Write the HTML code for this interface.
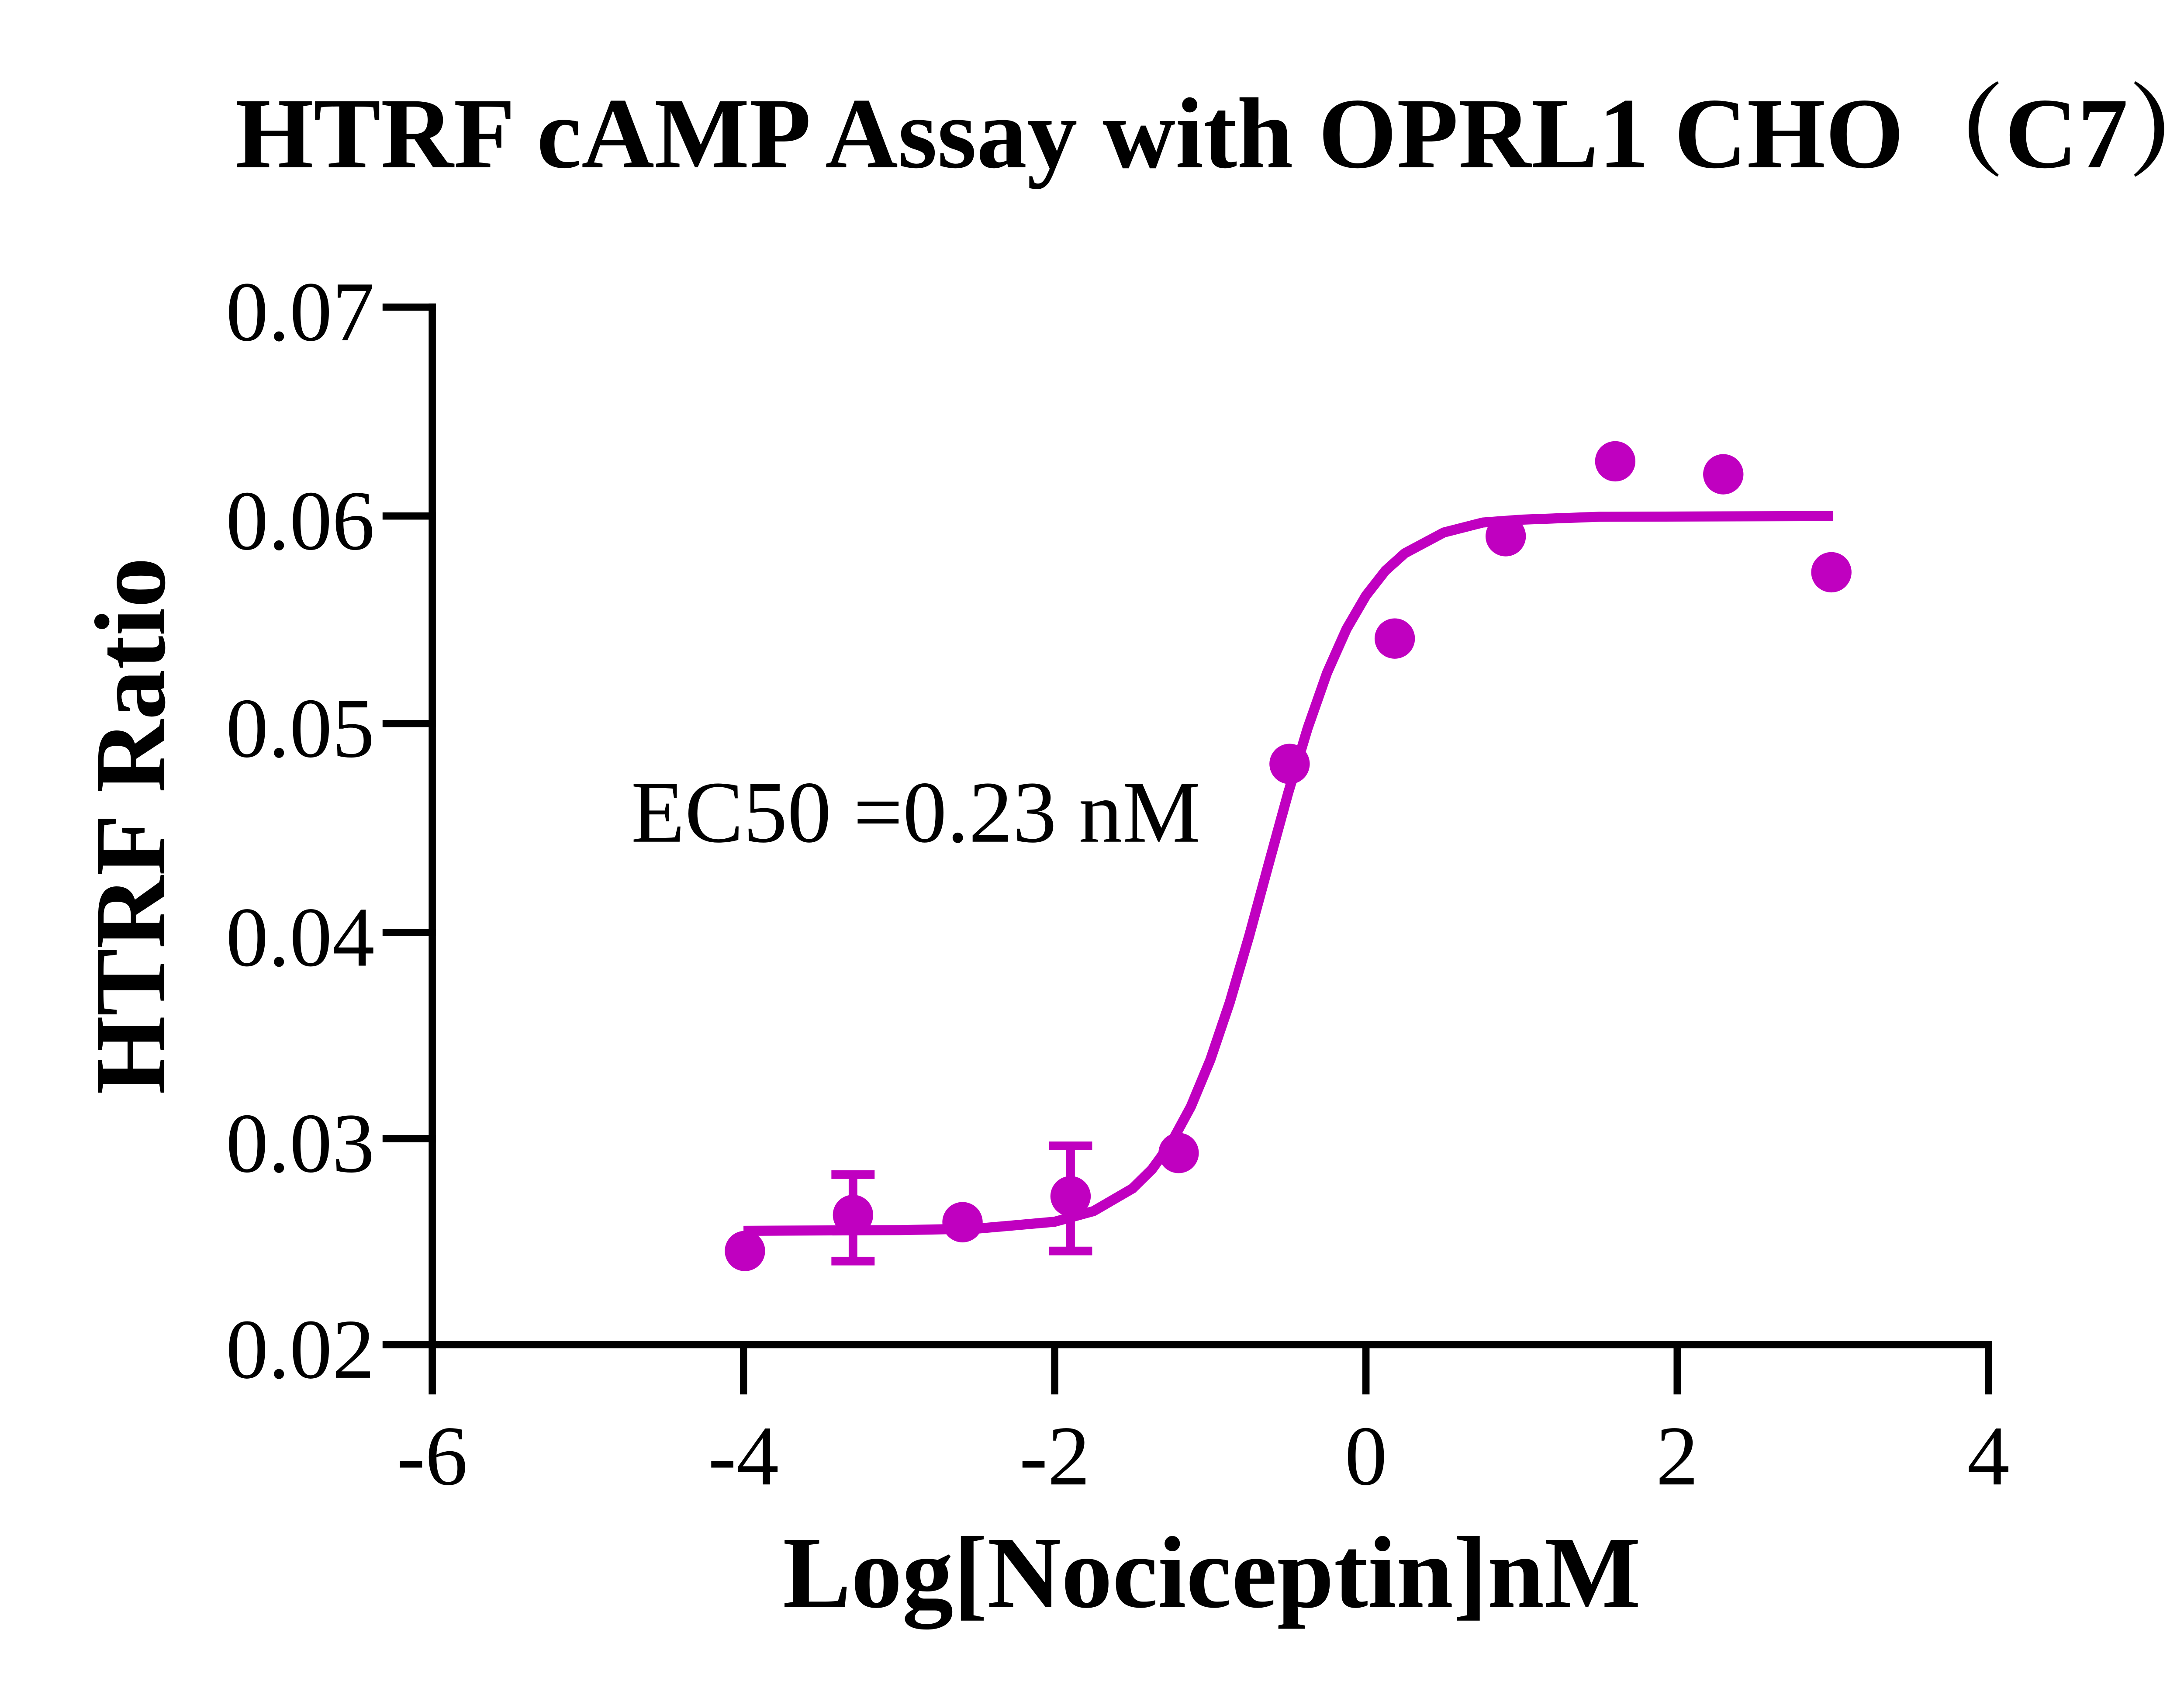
<!DOCTYPE html>
<html><head><meta charset="utf-8"><style>
html,body{margin:0;padding:0;background:#fff;}
svg{display:block;}
text{font-family:"Liberation Serif","Noto Serif CJK SC",serif;fill:#000;}
</style></head><body>
<svg width="5146" height="3880" viewBox="0 0 1560 1176" xmlns="http://www.w3.org/2000/svg">
<rect width="1560" height="1176" fill="#fff"/>
<text x="855" y="116" font-size="70" font-weight="bold" text-anchor="middle">HTRF cAMP Assay with OPRL1 CHO（C7）</text>
<g stroke="#000" stroke-width="5" fill="none" stroke-linecap="square">
<path d="M300 213 V933 H1380"/>
<path d="M268 213H300M268 358H300M268 502H300M268 647H300M268 790H300M268 933H300"/>
<path d="M300 933V965M516 933V965M732 933V965M948 933V965M1164 933V965M1380 933V965"/>
</g>
<g font-size="59" text-anchor="end">
<text x="260" y="236">0.07</text><text x="260" y="381">0.06</text><text x="260" y="525">0.05</text>
<text x="260" y="670">0.04</text><text x="260" y="813">0.03</text><text x="260" y="956">0.02</text>
</g>
<g font-size="59" text-anchor="middle">
<text x="300" y="1030">-6</text><text x="516" y="1030">-4</text><text x="732" y="1030">-2</text>
<text x="948" y="1030">0</text><text x="1164" y="1030">2</text><text x="1380" y="1030">4</text>
</g>
<text x="841" y="1115" font-size="71" font-weight="bold" text-anchor="middle">Log[Nociceptin]nM</text>
<text transform="translate(114,573) rotate(-90)" font-size="70" font-weight="bold" text-anchor="middle">HTRF Ratio</text>
<text x="438" y="584" font-size="61">EC50 =0.23 nM</text>
<polyline fill="none" stroke="#c000c0" stroke-width="7" stroke-linejoin="round" points="516,854 624,853.5 678,852.5 732,847.7 759,840.3 786,824.6 799.5,811.3 813,792.7 826.5,767.8 840,735.3 853.5,695.4 867,649.2 880.5,599.4 894,550.2 907.5,505.3 921,466.8 934.5,436.4 948,413.2 961.5,395.9 975,383.8 1002,369.4 1029,362.5 1056,360.5 1110,358.5 1272,358"/>
<g stroke="#c000c0" stroke-width="6" fill="none">
<path d="M592 815V875M577 815H607M577 875H607"/>
<path d="M743 795V868M728 795H758M728 868H758"/>
</g>
<g fill="#c000c0">
<circle cx="517" cy="868" r="14"/><circle cx="592" cy="843" r="14"/><circle cx="668" cy="848" r="14"/>
<circle cx="743" cy="830" r="14"/><circle cx="818" cy="800" r="14"/><circle cx="895" cy="530" r="14"/>
<circle cx="968" cy="443" r="14"/><circle cx="1045" cy="372" r="14"/><circle cx="1121" cy="320" r="14"/>
<circle cx="1196" cy="329" r="14"/><circle cx="1271" cy="397" r="14"/>
</g>
</svg>
</body></html>
